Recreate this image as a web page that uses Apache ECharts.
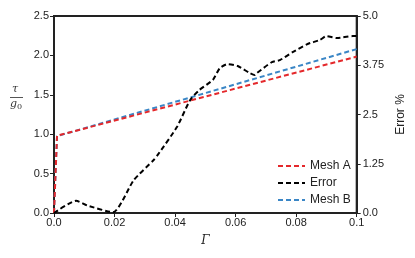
<!DOCTYPE html>
<html><head><meta charset="utf-8">
<script src="https://cdn.jsdelivr.net/npm/echarts@6/dist/echarts.min.js"></script>
<style>html,body{margin:0;padding:0;background:#fff}#c{width:415px;height:258px}</style>
</head><body><div id="c"></div>
<script>
const gammaErr = [0, 0.0073, 0.011, 0.0195, 0.0264, 0.033, 0.0345, 0.0406, 0.045, 0.048, 0.0525, 0.0548, 0.0574, 0.0607, 0.0647, 0.0663, 0.067, 0.072, 0.0746, 0.079, 0.0838, 0.0878, 0.090, 0.0934, 0.0987, 0.1];
const errorPct = [0, 0.31, 0.19, 0.02, 0.84, 1.35, 1.5, 2.18, 2.87, 3.12, 3.38, 3.68, 3.78, 3.73, 3.55, 3.50, 3.55, 3.83, 3.88, 4.09, 4.29, 4.39, 4.49, 4.44, 4.49, 4.49];
const gammaMesh = [0, 0.001, 0.1];
const meshA = [0, 0.98, 1.985];
const meshB = [0, 0.975, 2.08];
const xTicks = ['0.0', '0.02', '0.04', '0.06', '0.08', '0.1'];
const leftTicks = ['0.0', '0.5', '1.0', '1.5', '2.0', '2.5'];
const rightTicks = ['0.0', '1.25', '2.5', '3.75', '5.0'];

const zip = (xs, ys) => xs.map((x, i) => [x, ys[i]]);
const font = 'Liberation Sans';
const lab = { color: '#222', fontFamily: font, fontSize: 11 };
const chart = echarts.init(document.getElementById('c'), null, { renderer: 'canvas' });
const dash = [5, 3];
chart.setOption({
  animation: false,
  grid: { left: 54, right: 58, top: 16, bottom: 45, show: true, borderColor: '#222', borderWidth: 2, backgroundColor: 'transparent' },
  xAxis: {
    type: 'value', min: 0, max: 0.1, interval: 0.02,
    axisLine: { show: true, lineStyle: { color: '#222', width: 2 } },
    axisTick: { show: true, length: 4, lineStyle: { color: '#222', width: 1 } },
    splitLine: { show: false },
    axisLabel: Object.assign({ margin: 4, formatter: v => xTicks[Math.round(v / 0.02)] }, lab),
    name: 'Γ', nameLocation: 'middle', nameGap: 22,
    nameTextStyle: { fontFamily: 'DejaVu Serif', fontStyle: 'italic', fontSize: 12, color: '#222' }
  },
  yAxis: [{
    type: 'value', min: 0, max: 2.5, interval: 0.5,
    axisLine: { show: true, lineStyle: { color: '#222', width: 2 } },
    axisTick: { show: true, length: 4, lineStyle: { color: '#222', width: 1 } },
    splitLine: { show: false },
    axisLabel: Object.assign({ margin: 5, formatter: v => leftTicks[Math.round(v / 0.5)] }, lab)
  }, {
    type: 'value', min: 0, max: 5, interval: 1.25, position: 'right',
    axisLine: { show: true, lineStyle: { color: '#222', width: 2 } },
    axisTick: { show: true, length: 4, lineStyle: { color: '#222', width: 1 } },
    splitLine: { show: false },
    axisLabel: Object.assign({ margin: 6, formatter: v => rightTicks[Math.round(v / 1.25)] }, lab),
    name: 'Error %', nameLocation: 'middle', nameGap: 36, nameRotate: 90,
    nameTextStyle: { fontFamily: font, fontSize: 12, color: '#222' }
  }],
  legend: {
    orient: 'vertical', left: 272, top: 155, itemWidth: 27, itemHeight: 10, itemGap: 5,
    data: ['Mesh A', 'Error', 'Mesh B'],
    itemStyle: { opacity: 0 },
    textStyle: { fontFamily: font, fontSize: 12, color: '#222' }
  },
  graphic: [
    { type: 'text', left: 12, top: 84, style: { text: 'τ', fontFamily: 'DejaVu Serif', fontStyle: 'italic', fontSize: 11, fill: '#333' } },
    { type: 'rect', left: 10, top: 97, shape: { width: 13, height: 1 }, style: { fill: '#555' } },
    { type: 'text', left: 10, top: 99, style: { rich: { g: { fontFamily: 'DejaVu Serif', fontStyle: 'italic', fontSize: 11, fill: '#333' }, s: { fontFamily: 'DejaVu Serif', fontSize: 8, fill: '#333', padding: [4, 0, 0, 0] } }, text: '{g|g}{s|0}' } }
  ],
  series: [
    { name: 'Mesh B', type: 'line', data: zip(gammaMesh, meshB), showSymbol: false, symbol: 'none', lineStyle: { color: '#3a86c6', width: 2, type: dash }, itemStyle: { color: '#3a86c6' } },
    { name: 'Mesh A', type: 'line', data: zip(gammaMesh, meshA), showSymbol: false, symbol: 'none', lineStyle: { color: '#e4282b', width: 2, type: dash }, itemStyle: { color: '#e4282b' } },
    { name: 'Error', type: 'line', yAxisIndex: 1, data: zip(gammaErr, errorPct), smooth: 0.2, showSymbol: false, symbol: 'none', lineStyle: { color: '#000', width: 2, type: dash }, itemStyle: { color: '#000' } }
  ]
});
</script></body></html>
